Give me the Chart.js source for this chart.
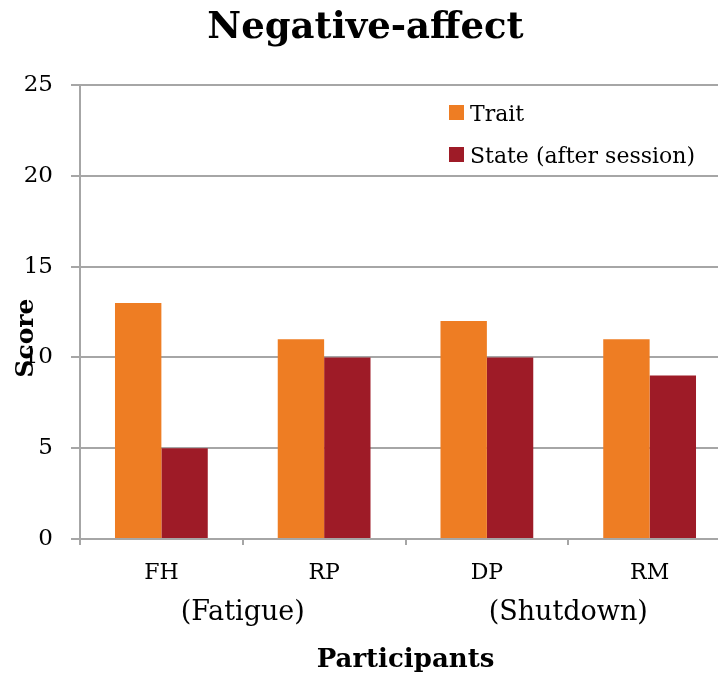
<!DOCTYPE html>
<html>
<head>
<meta charset="utf-8">
<script src="https://cdn.jsdelivr.net/npm/chart.js@4/dist/chart.umd.min.js"></script>
<style>
  html, body { margin: 0; padding: 0; background: #fff; overflow: hidden; }
  #wrap { position: relative; width: 731px; height: 678px; }
</style>
</head>
<body>
<div id="wrap"><canvas id="c"></canvas></div>
<script>
const categories = ['FH', 'RP', 'DP', 'RM'];
const groupLabels = ['(Fatigue)', '(Shutdown)'];
const seriesNames = ['Trait', 'State (after session)'];
const traitValues = [13, 11, 12, 11];
const stateValues = [5, 10, 10, 9];
const yMin = 0, yMax = 25, yStep = 5;

const ORANGE = '#ee7d23';
const DARKRED = '#9e1b27';
const GRID = '#a6a6a6';
const SERIF = "'DejaVu Serif', serif";

const insideLegend = {
  id: 'insideLegend',
  afterDatasetsDraw(chart) {
    const {ctx, chartArea} = chart;
    const x0 = chartArea.left + 369;
    const baselines = [chartArea.top + 36, chartArea.top + 78];
    ctx.save();
    ctx.font = '22px ' + SERIF;
    ctx.textBaseline = 'alphabetic';
    ctx.textAlign = 'left';
    chart.data.datasets.forEach((ds, i) => {
      const b = baselines[i];
      ctx.fillStyle = ds.backgroundColor;
      ctx.fillRect(x0, b - 16, 15, 15);
      ctx.fillStyle = '#000';
      ctx.fillText(ds.label, x0 + 21, b);
    });
    ctx.restore();
  }
};

new Chart(document.getElementById('c'), {
  type: 'bar',
  data: {
    labels: categories,
    datasets: [
      { label: seriesNames[0], data: traitValues, backgroundColor: ORANGE,
        categoryPercentage: 0.57, barPercentage: 1.0 },
      { label: seriesNames[1], data: stateValues, backgroundColor: DARKRED,
        categoryPercentage: 0.57, barPercentage: 1.0 }
    ]
  },
  options: {
    responsive: true,
    maintainAspectRatio: false,
    animation: false,
    color: '#000',
    layout: { padding: 0 },
    plugins: {
      legend: { display: false },
      tooltip: { enabled: false },
      title: {
        display: true,
        text: 'Negative-affect',
        color: '#000',
        font: { family: SERIF, size: 37, weight: 'bold' },
        padding: { top: 6, bottom: 34.6 }
      }
    },
    scales: {
      x: {
        type: 'category',
        position: 'bottom',
        offset: true,
        afterFit(scale) { scale.height = 47.6; },
        grid: { display: true, drawOnChartArea: false, drawTicks: true, tickLength: 6,
                offset: true, color: GRID, lineWidth: 2 },
        border: { display: true, color: GRID, width: 2 },
        ticks: { color: '#000', font: { family: SERIF, size: 22 }, padding: 15.2,
                 maxRotation: 0, autoSkip: false }
      },
      x2: {
        type: 'category',
        position: 'bottom',
        labels: groupLabels,
        offset: true,
        afterFit(scale) { scale.height = 91.4; },
        grid: { display: false, drawTicks: false },
        border: { display: false },
        ticks: { color: '#000', font: { family: SERIF, size: 27 }, padding: 9.9,
                 maxRotation: 0, autoSkip: false },
        title: {
          display: true,
          text: 'Participants',
          color: '#000',
          font: { family: SERIF, size: 26, weight: 'bold' },
          padding: { top: 15.5, bottom: 2.4 }
        }
      },
      y: {
        min: yMin,
        max: yMax,
        afterFit(scale) { scale.width = 80; },
        ticks: { stepSize: yStep, color: '#000', font: { family: SERIF, size: 23 }, padding: 18 },
        grid: { color: GRID, lineWidth: 2, drawTicks: true, tickLength: 9 },
        border: { display: true, color: GRID, width: 2 },
        title: {
          display: true,
          text: 'Score      ',
          color: '#000',
          font: { family: SERIF, size: 25, weight: 'bold' },
          padding: { top: 11.3, bottom: 0 }
        }
      }
    }
  },
  plugins: [insideLegend]
});
</script>
</body>
</html>
